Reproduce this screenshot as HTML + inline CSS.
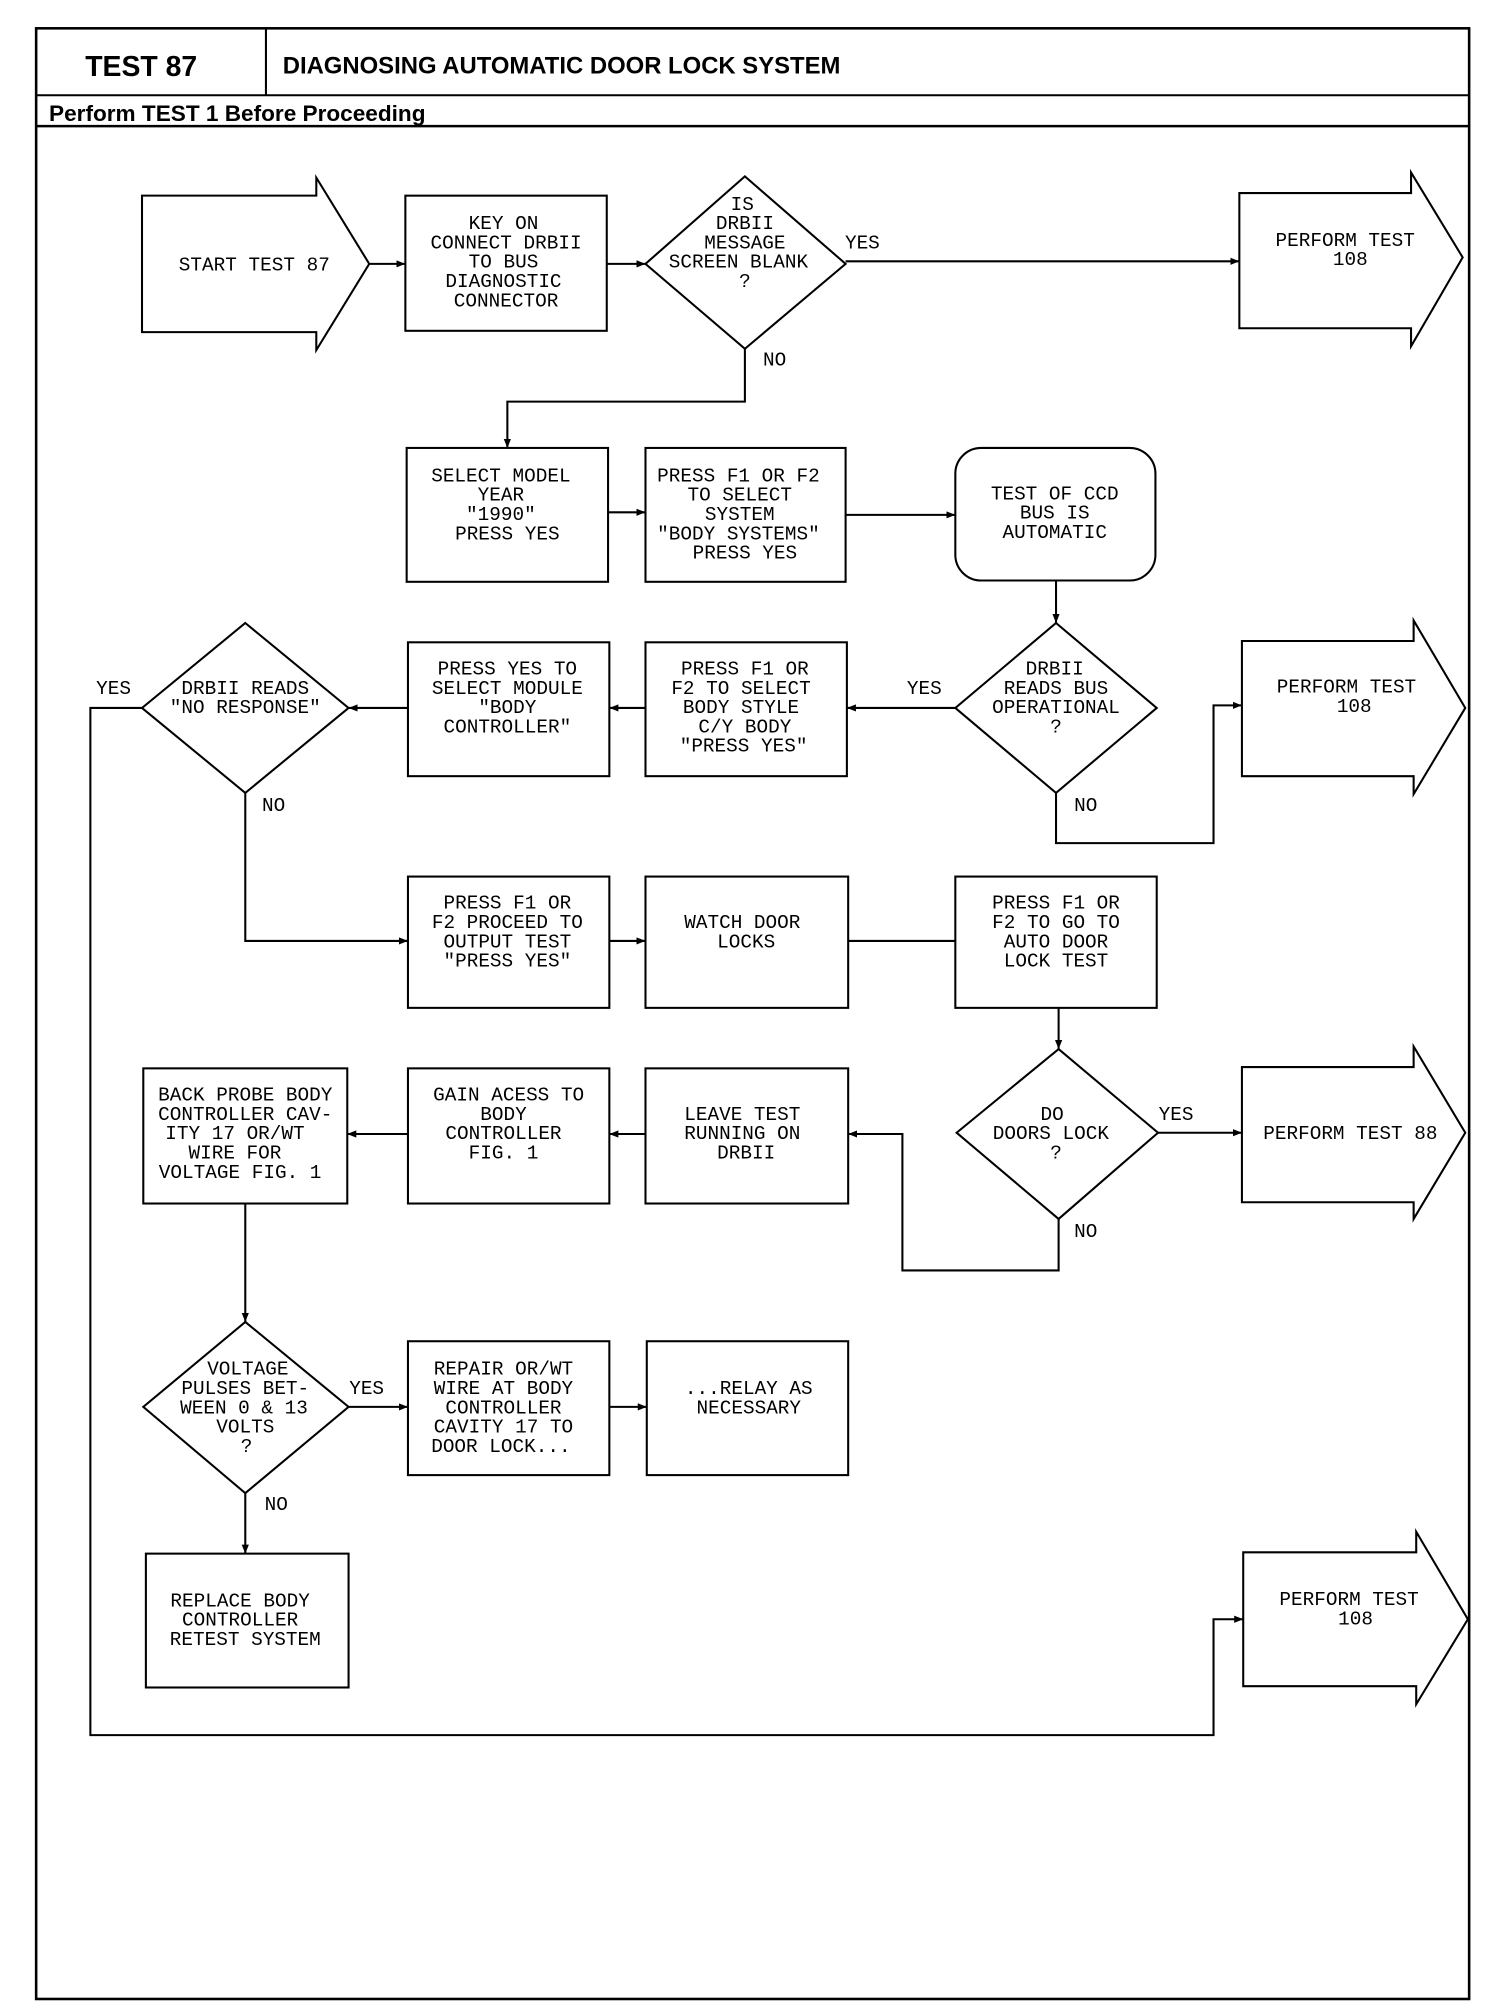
<!DOCTYPE html>
<html><head><meta charset="utf-8"><style>
html,body{margin:0;padding:0;background:#fff;width:1504px;height:2008px;overflow:hidden}
svg{display:block}
.t{font-family:"Liberation Mono",monospace;font-size:15px;text-anchor:middle;fill:#000}
.h{font-family:"Liberation Sans",sans-serif;font-weight:bold;fill:#000}
.s{fill:none;stroke:#000;stroke-width:1.6}
.b{fill:none;stroke:#000;stroke-width:2}
</style></head><body>
<svg width="1504" height="2008" viewBox="0 0 1165 1560" preserveAspectRatio="none">
<defs><marker id="a" viewBox="0 0 10 10" refX="10" refY="5" markerWidth="7" markerHeight="7" orient="auto" markerUnits="userSpaceOnUse"><path d="M0,1 L10,5 L0,9 z" fill="#000"/></marker></defs>
<!-- frame -->
<rect x="28" y="22" width="1110" height="1531" class="b"/>
<line x1="28" y1="74" x2="1138" y2="74" class="s"/>
<line x1="206" y1="22" x2="206" y2="74" class="s"/>
<line x1="28" y1="98" x2="1138" y2="98" class="b"/>
<text x="66" y="59" class="h" font-size="22">TEST 87</text>
<text x="219" y="57" class="h" font-size="18.5">DIAGNOSING AUTOMATIC DOOR LOCK SYSTEM</text>
<text x="38" y="94" class="h" font-size="17.5">Perform TEST 1 Before Proceeding</text>

<g class="s">
<!-- row1 -->
<path d="M110,152 H245 V138 L286,205 L245,272 V258 H110 Z"/>
<rect x="314" y="152" width="156" height="105"/>
<path d="M577,137 L655,205 L577,271 L500,205 Z"/>
<path d="M960,150 H1093 V134 L1133,200 L1093,269 V255 H960 Z"/>
<line x1="286" y1="205" x2="314" y2="205" marker-end="url(#a)"/>
<line x1="470" y1="205" x2="500" y2="205" marker-end="url(#a)"/>
<line x1="655" y1="203" x2="960" y2="203" marker-end="url(#a)"/>
<polyline points="577,271 577,312 393,312 393,348" marker-end="url(#a)"/>
<!-- row2 -->
<rect x="315" y="348" width="156" height="104"/>
<rect x="500" y="348" width="155" height="104"/>
<rect x="740" y="348" width="155" height="103" rx="20"/>
<line x1="471" y1="398" x2="500" y2="398" marker-end="url(#a)"/>
<line x1="655" y1="400" x2="740" y2="400" marker-end="url(#a)"/>
<line x1="818" y1="451" x2="818" y2="484" marker-end="url(#a)"/>
<!-- row3 -->
<path d="M818,484 L896,550 L818,616 L740,550 Z"/>
<path d="M962,498 H1095 V482 L1135,550 L1095,617 V603 H962 Z"/>
<rect x="500" y="499" width="156" height="104"/>
<rect x="316" y="499" width="156" height="104"/>
<path d="M190,484 L270,550 L190,616 L110,550 Z"/>
<line x1="740" y1="550" x2="656" y2="550" marker-end="url(#a)"/>
<polyline points="818,616 818,655 940,655 940,548 962,548" marker-end="url(#a)"/>
<line x1="500" y1="550" x2="472" y2="550" marker-end="url(#a)"/>
<line x1="316" y1="550" x2="270" y2="550" marker-end="url(#a)"/>
<polyline points="110,550 70,550 70,1348 940,1348 940,1258 963,1258" marker-end="url(#a)"/>
<polyline points="190,616 190,731 316,731" marker-end="url(#a)"/>
<!-- row4 -->
<rect x="316" y="681" width="156" height="102"/>
<rect x="500" y="681" width="157" height="102"/>
<rect x="740" y="681" width="156" height="102"/>
<line x1="472" y1="731" x2="500" y2="731" marker-end="url(#a)"/>
<line x1="657" y1="731" x2="740" y2="731"/>
<line x1="820" y1="783" x2="820" y2="815" marker-end="url(#a)"/>
<!-- row5 -->
<path d="M820,815 L897,880 L820,947 L741,880 Z"/>
<path d="M962,829 H1095 V813 L1135,880 L1095,947 V934 H962 Z"/>
<line x1="897" y1="880" x2="962" y2="880" marker-end="url(#a)"/>
<polyline points="820,947 820,987 699,987 699,881 657,881" marker-end="url(#a)"/>
<rect x="500" y="830" width="157" height="105"/>
<rect x="316" y="830" width="156" height="105"/>
<rect x="111" y="830" width="158" height="105"/>
<line x1="500" y1="881" x2="472" y2="881" marker-end="url(#a)"/>
<line x1="316" y1="881" x2="269" y2="881" marker-end="url(#a)"/>
<line x1="190" y1="935" x2="190" y2="1027" marker-end="url(#a)"/>
<!-- row6 -->
<path d="M190,1027 L270,1093 L190,1160 L111,1093 Z"/>
<rect x="316" y="1042" width="156" height="104"/>
<rect x="501" y="1042" width="156" height="104"/>
<line x1="270" y1="1093" x2="316" y2="1093" marker-end="url(#a)"/>
<line x1="472" y1="1093" x2="501" y2="1093" marker-end="url(#a)"/>
<line x1="190" y1="1160" x2="190" y2="1207" marker-end="url(#a)"/>
<rect x="113" y="1207" width="157" height="104"/>
<path d="M963,1206 H1097 V1190 L1137,1258 L1097,1324 V1310 H963 Z"/>
</g>

<g class="t">
<text x="197" y="210">START TEST 87</text>
<text x="390" y="178">KEY ON</text><text x="392" y="193">CONNECT DRBII</text><text x="390" y="208">TO BUS</text><text x="390" y="223">DIAGNOSTIC</text><text x="392" y="238">CONNECTOR</text>
<text x="575" y="163">IS</text><text x="577" y="178">DRBII</text><text x="577" y="193">MESSAGE</text><text x="572" y="208">SCREEN BLANK</text><text x="577" y="223">?</text>
<text x="668" y="193">YES</text><text x="600" y="284">NO</text>
<text x="1042" y="191">PERFORM TEST</text><text x="1046" y="206">108</text>
<text x="388" y="374">SELECT MODEL</text><text x="388" y="389">YEAR</text><text x="388" y="404">"1990"</text><text x="393" y="419">PRESS YES</text>
<text x="572" y="374">PRESS F1 OR F2</text><text x="573" y="389">TO SELECT</text><text x="573" y="404">SYSTEM</text><text x="572" y="419">"BODY SYSTEMS"</text><text x="577" y="434">PRESS YES</text>
<text x="817" y="388">TEST OF CCD</text><text x="817" y="403">BUS IS</text><text x="817" y="418">AUTOMATIC</text>
<text x="817" y="524">DRBII</text><text x="818" y="539">READS BUS</text><text x="818" y="554">OPERATIONAL</text><text x="818" y="569">?</text>
<text x="716" y="539">YES</text><text x="841" y="630">NO</text>
<text x="1043" y="538">PERFORM TEST</text><text x="1049" y="553">108</text>
<text x="577" y="524">PRESS F1 OR</text><text x="574" y="539">F2 TO SELECT</text><text x="574" y="554">BODY STYLE</text><text x="577" y="569">C/Y BODY</text><text x="576" y="584">"PRESS YES"</text>
<text x="393" y="524">PRESS YES TO</text><text x="393" y="539">SELECT MODULE</text><text x="393" y="554">"BODY</text><text x="393" y="569">CONTROLLER"</text>
<text x="190" y="539">DRBII READS</text><text x="190" y="554">"NO RESPONSE"</text>
<text x="88" y="539">YES</text><text x="212" y="630">NO</text>
<text x="393" y="706">PRESS F1 OR</text><text x="393" y="721">F2 PROCEED TO</text><text x="393" y="736">OUTPUT TEST</text><text x="393" y="751">"PRESS YES"</text>
<text x="575" y="721">WATCH DOOR</text><text x="578" y="736">LOCKS</text>
<text x="818" y="706">PRESS F1 OR</text><text x="818" y="721">F2 TO GO TO</text><text x="818" y="736">AUTO DOOR</text><text x="818" y="751">LOCK TEST</text>
<text x="815" y="870">DO</text><text x="814" y="885">DOORS LOCK</text><text x="818" y="900">?</text>
<text x="911" y="870">YES</text><text x="841" y="961">NO</text>
<text x="1046" y="885">PERFORM TEST 88</text>
<text x="575" y="870">LEAVE TEST</text><text x="575" y="885">RUNNING ON</text><text x="578" y="900">DRBII</text>
<text x="394" y="855">GAIN ACESS TO</text><text x="390" y="870">BODY</text><text x="390" y="885">CONTROLLER</text><text x="390" y="900">FIG. 1</text>
<text x="190" y="855">BACK PROBE BODY</text><text x="190" y="870">CONTROLLER CAV-</text><text x="182" y="885">ITY 17 OR/WT</text><text x="182" y="900">WIRE FOR</text><text x="186" y="915">VOLTAGE FIG. 1</text>
<text x="192" y="1068">VOLTAGE</text><text x="190" y="1083">PULSES BET-</text><text x="189" y="1098">WEEN 0 &amp; 13</text><text x="190" y="1113">VOLTS</text><text x="191" y="1128">?</text>
<text x="284" y="1083">YES</text><text x="214" y="1173">NO</text>
<text x="390" y="1068">REPAIR OR/WT</text><text x="390" y="1083">WIRE AT BODY</text><text x="390" y="1098">CONTROLLER</text><text x="390" y="1113">CAVITY 17 TO</text><text x="388" y="1128">DOOR LOCK...</text>
<text x="580" y="1083">...RELAY AS</text><text x="580" y="1098">NECESSARY</text>
<text x="186" y="1248">REPLACE BODY</text><text x="186" y="1263">CONTROLLER</text><text x="190" y="1278">RETEST SYSTEM</text>
<text x="1045" y="1247">PERFORM TEST</text><text x="1050" y="1262">108</text>
</g>
</svg>
</body></html>
